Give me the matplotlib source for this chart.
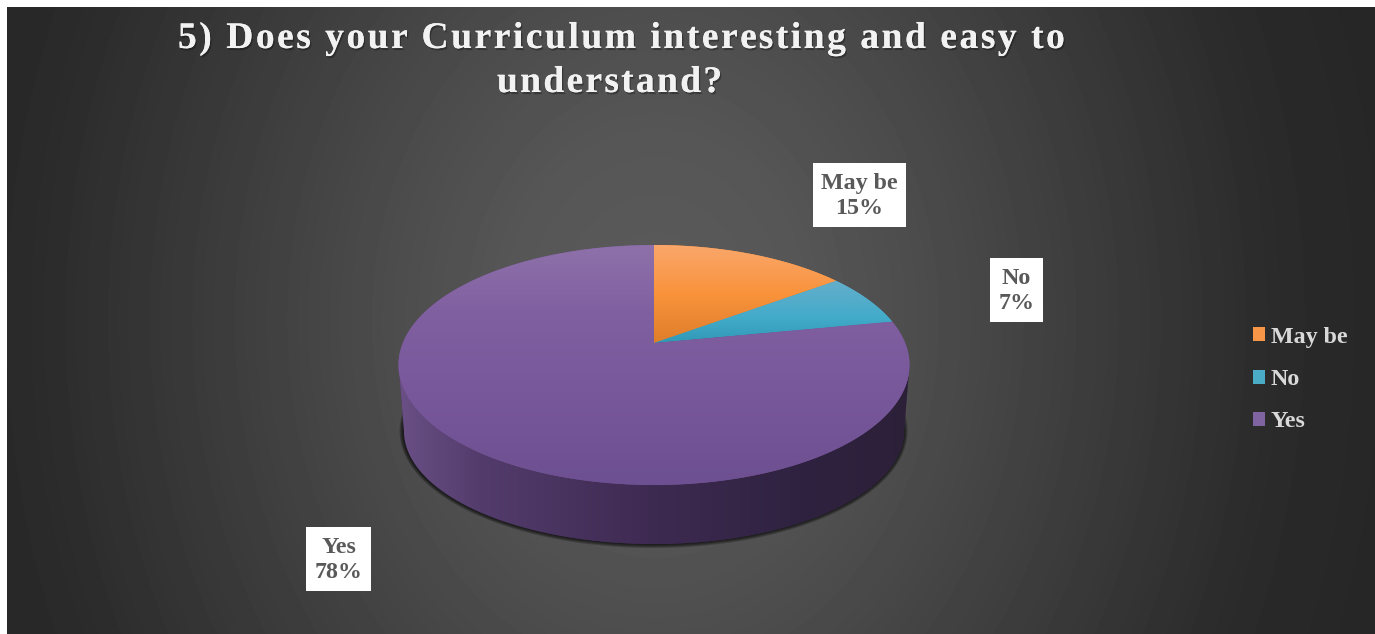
import numpy as np
import matplotlib
matplotlib.use("Agg")
import matplotlib.pyplot as plt
import matplotlib.patheffects as pe
from matplotlib.patches import PathPatch, Polygon, Rectangle, Patch
from matplotlib.path import Path
from matplotlib.text import Text
from matplotlib.transforms import Bbox, IdentityTransform
from matplotlib.colors import to_rgb

title_lines = ["5) Does your Curriculum interesting and easy to", "understand?"]
categories = ["May be", "No", "Yes"]
values = [15, 7, 78]
legend_colors = ["#f79646", "#4bacc6", "#8064a2"]

# vertical shading per slice: (y, colour)
slice_shades = [
    [(245, "#f9a76c"), (292, "#fa933c"), (345, "#dd7d2a")],
    [(283, "#62aeca"), (318, "#42abca"), (345, "#2f97b4")],
    [(245, "#8e71aa"), (310, "#8160a1"), (400, "#77579a"), (486, "#6d5091")],
]

W, H = 1375, 634
# pie geometry in pixels
CX, CY, RX, RY = 654, 365, 255.5, 120
APEX = (654, 343)
BOT_CY, BOT_RX, BOT_RY = 431, 250, 113

plt.rcParams["font.family"] = ["Liberation Serif", "DejaVu Serif"]


class SpacedText(Text):
    # Text with letter spacing, matplotlib has no option for it
    def __init__(self, x, y, s, tracking=0.0, **kwargs):
        super().__init__(x, y, s, **kwargs)
        self.tracking = tracking

    def _prefix_width(self, renderer, s):
        if not s:
            return 0.0
        w, _, _ = renderer.get_text_width_height_descent(s, self.get_fontproperties(), False)
        return w

    def get_window_extent(self, renderer=None, dpi=None):
        bb = super().get_window_extent(renderer, dpi)
        extra = self.tracking * (len(self.get_text()) - 1)
        return Bbox.from_extents(bb.x0, bb.y0, bb.x1 + extra, bb.y1)

    def draw(self, renderer):
        s = self.get_text()
        x0, y0 = self.get_transform().transform((self.get_position()))
        for i, ch in enumerate(s):
            if ch == " ":
                continue
            off = self._prefix_width(renderer, s[:i]) + i * self.tracking
            piece = Text(x0 + off, y0, ch, transform=IdentityTransform(),
                         fontproperties=self.get_fontproperties(), color=self.get_color(),
                         va="baseline", ha="left", path_effects=self.get_path_effects())
            piece.set_figure(self.get_figure())
            piece.draw(renderer)


def shade_image(ax, stops, path, x0, x1, y0, y1):
    ys = np.arange(y0, y1 + 1)
    sy = [s[0] for s in stops]
    rgb = np.array([to_rgb(s[1]) for s in stops])
    col = np.stack([np.interp(ys, sy, rgb[:, i]) for i in range(3)], axis=1)
    im = ax.imshow(col[:, None, :], extent=(x0, x1, y1, y0), aspect="auto", zorder=3, interpolation="bilinear")
    patch = PathPatch(path, fc=stops[len(stops) // 2][1], ec="none", zorder=2.9)
    ax.add_patch(patch)
    im.set_clip_path(patch)


def ray_to_rim(frac):
    # ray from the apex at this share of the circle, where it meets the top ellipse
    a = 2 * np.pi * frac
    dx, dy = np.sin(a), -RY / RX * np.cos(a)
    ox, oy = (APEX[0] - CX) / RX, (APEX[1] - CY) / RY
    ux, uy = dx / RX, dy / RY
    qa = ux * ux + uy * uy
    qb = 2 * (ox * ux + oy * uy)
    qc = ox * ox + oy * oy - 1
    t = (-qb + np.sqrt(qb * qb - 4 * qa * qc)) / (2 * qa)
    px = ox + t * ux
    py = oy + t * uy
    return np.mod(np.arctan2(px, -py), 2 * np.pi)


fig = plt.figure(figsize=(W / 100, H / 100), dpi=100, facecolor="white")
ax = fig.add_axes([0, 0, 1, 1])

# background
gx, gy = np.meshgrid(np.arange(7, W), np.arange(7, H))
dist = np.hypot(gx - 655, 0.8 * (gy - 320))
grey = np.interp(dist, [0, 150, 270, 450, 620, 720, 800], [91, 86, 76, 59, 43, 39, 37]) / 255
ax.imshow(grey, cmap="gray", vmin=0, vmax=1, extent=(7, W, H, 7), aspect="auto", zorder=0, interpolation="bilinear")

# soft shadow under the pie
for i in range(1, 5):
    t = np.linspace(0, 2 * np.pi, 240)
    ax.add_patch(Polygon(np.c_[CX - 0.5 + (BOT_RX + i) * np.sin(t), BOT_CY + (BOT_RY + i) * np.cos(t)],
                         fc="black", ec="none", alpha=0.22, zorder=1))

# side wall
t = np.linspace(np.pi / 2, 3 * np.pi / 2, 200)
top_edge = np.c_[CX + RX * np.sin(t), CY - RY * np.cos(t)]
bot_edge = np.c_[CX + BOT_RX * np.sin(t), BOT_CY - BOT_RY * np.cos(t)]
side = Path(np.vstack([top_edge, bot_edge[::-1], top_edge[:1]]))
side_x = np.arange(398, 911)
side_stops = np.array([to_rgb(c) for c in ["#6a5085", "#533c6c", "#3f2b53", "#2f2240", "#2c2039"]])
side_pos = [398, 480, 640, 800, 910]
side_img = np.stack([np.interp(side_x, side_pos, side_stops[:, i]) for i in range(3)], axis=1)[None, :, :]
im = ax.imshow(side_img, extent=(398, 910, 546, 360), aspect="auto", zorder=2)
side_patch = PathPatch(side, fc="#3f2b53", ec="none", zorder=1.9)
ax.add_patch(side_patch)
im.set_clip_path(side_patch)

# top face
cum = np.cumsum([0] + values) / sum(values)
for i, stops in enumerate(slice_shades):
    p0 = ray_to_rim(cum[i])
    p1 = ray_to_rim(cum[i + 1])
    if i == len(slice_shades) - 1:
        p1 = 2 * np.pi
    p = np.linspace(p0, p1, 300)
    verts = np.vstack([[APEX], np.c_[CX + RX * np.sin(p), CY - RY * np.cos(p)], [APEX]])
    shade_image(ax, stops, Path(verts), 398, 911, 244, 486)

# data labels
label_boxes = [(813, 163, 93, 64), (990, 258, 53, 64), (306, 527, 65, 64)]
for cat, val, box in zip(categories, values, label_boxes):
    x, y, w, h = box
    ax.add_patch(Rectangle((x, y), w, h, fc="white", ec="none", zorder=5))
    ax.text(x + w / 2, y + h / 2 + 1, f"{cat}\n{val}%", ha="center", va="center", color="#595959",
            fontsize=17.3, fontweight="bold", linespacing=1.25, zorder=6)

# title
shadow = [pe.withSimplePatchShadow(offset=(1, -1.5), shadow_rgbFace="black", alpha=0.3), pe.Normal()]
for line, lx, ly, track in zip(title_lines, [178, 497], [48, 92], [2.54, 2.3]):
    txt = SpacedText(lx, ly, line, tracking=track, color="#f2f2f2", fontsize=27, fontweight="bold",
                     va="baseline", ha="left", zorder=7, transform=ax.transData)
    txt.set_path_effects(shadow)
    ax.add_artist(txt)

# legend
handles = [Patch(fc=c, ec="none", label=cat) for c, cat in zip(legend_colors, categories)]
leg = ax.legend(handles=handles, loc="upper left", bbox_to_anchor=(1253 / W, 1 - 327 / H), frameon=False,
                borderpad=0, borderaxespad=0, handlelength=0.52, handleheight=0.52, handletextpad=0.21,
                labelspacing=0.88, prop={"size": 17.3, "weight": "bold"}, labelcolor="#d9d9d9")
leg.set_zorder(8)

ax.set_xlim(0, W)
ax.set_ylim(H, 0)
ax.axis("off")
fig.savefig("out.png", dpi=100, facecolor="white")
